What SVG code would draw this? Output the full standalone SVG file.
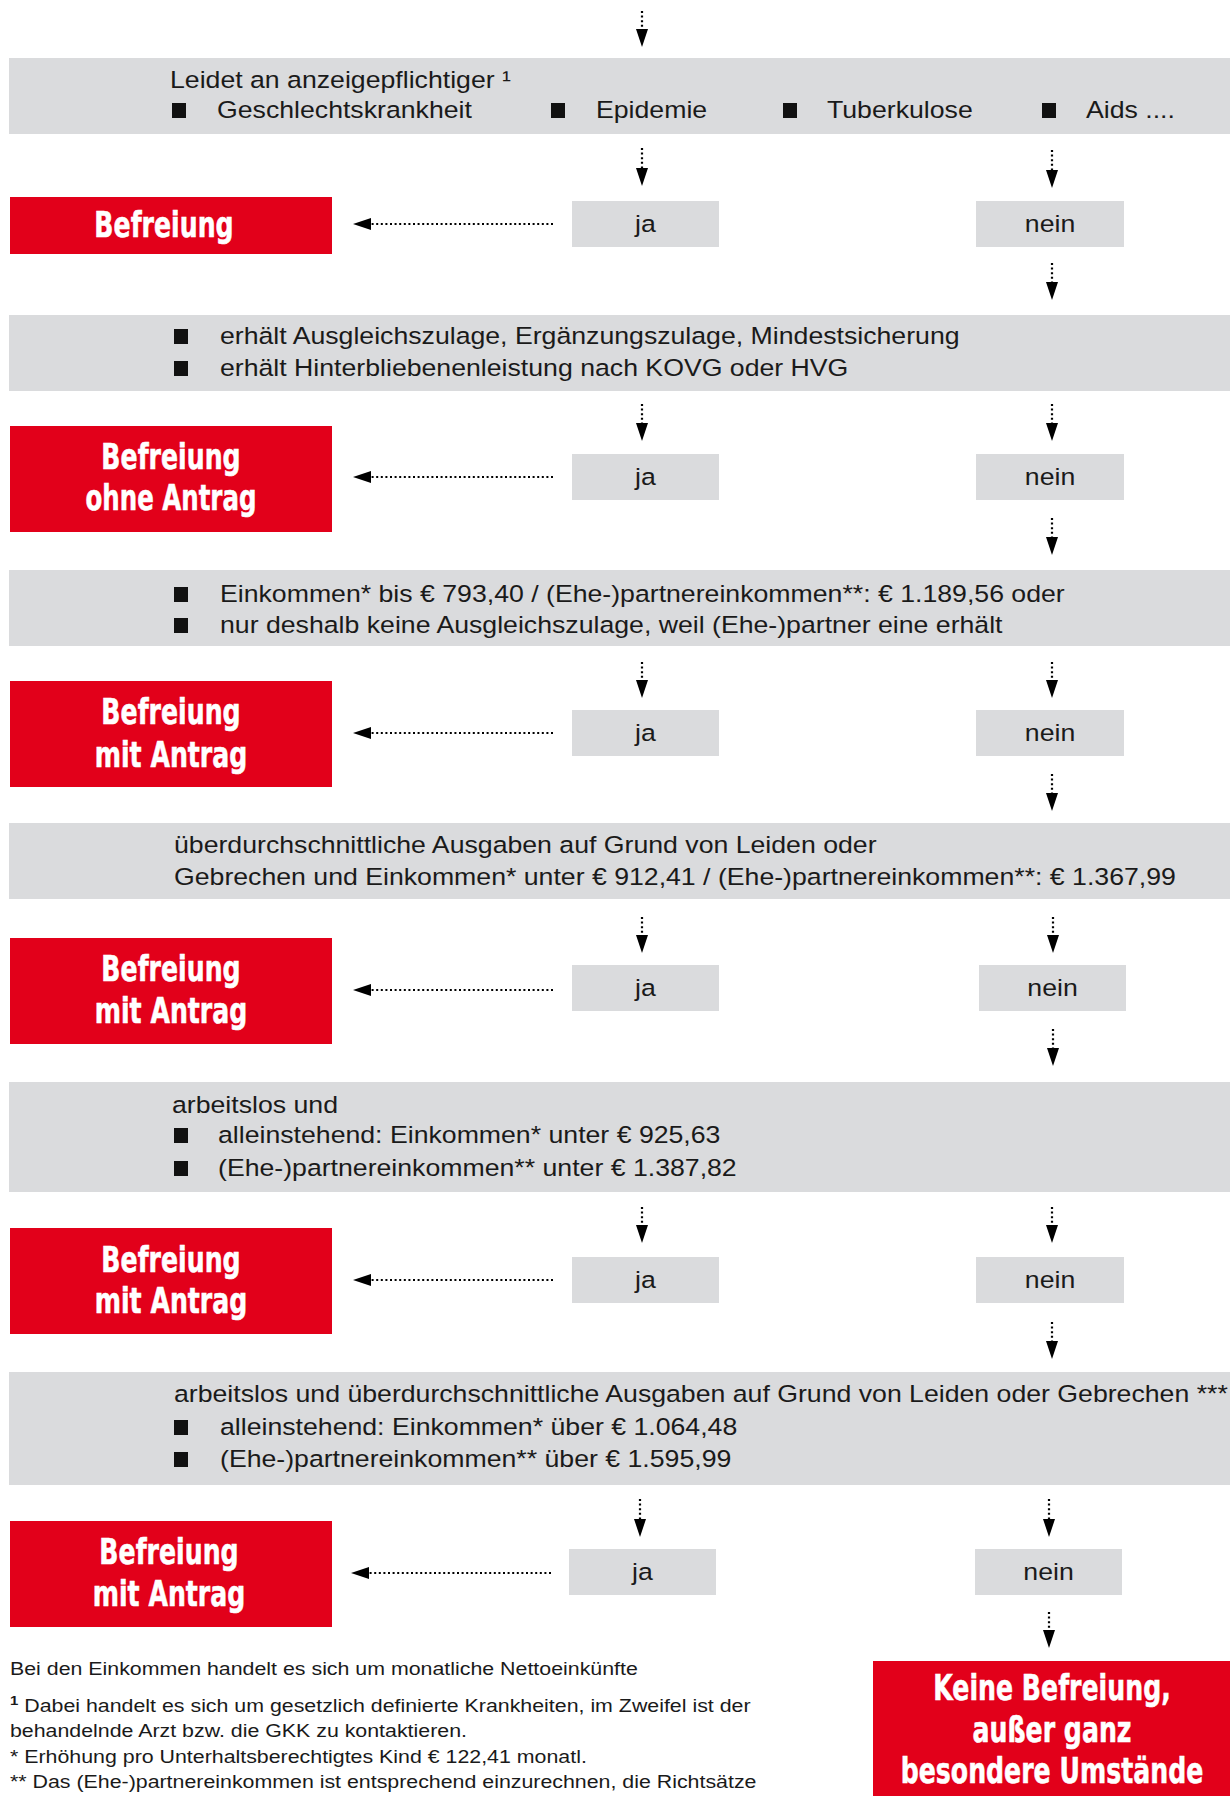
<svg xmlns="http://www.w3.org/2000/svg" width="1230" height="1796" viewBox="0 0 1230 1796">
<style>
.band{fill:#dadbdd}
.red{fill:#e2001a}
.box{fill:#dadbdd}
.bul{fill:#111}
.t{font-family:"Liberation Sans",Arial,sans-serif;font-size:23.5px;fill:#1a1a1a}
.m{text-anchor:middle}
.f{font-family:"Liberation Sans",Arial,sans-serif;font-size:18.5px;fill:#1a1a1a}
.r{font-family:"DejaVu Sans",sans-serif;font-weight:bold;font-size:36px;fill:#fff;text-anchor:middle;stroke:#fff;stroke-width:0.6}
.d{stroke:#000;stroke-width:2.2;stroke-dasharray:2 2.6;fill:none;marker-end:url(#ah)}
</style>
<defs>
<marker id="ah" viewBox="0 0 18 12" markerWidth="18" markerHeight="12" refX="0" refY="6" orient="auto" markerUnits="userSpaceOnUse"><path d="M0,0L18,6L0,12Z" fill="#000"/></marker>
</defs>
<rect width="1230" height="1796" fill="#fff"/>

<g id="q1">
<rect class="band" x="9" y="58" width="1221" height="76"/>
<text class="t" transform="translate(170,88) scale(1.135,1)">Leidet an anzeigepflichtiger ¹</text>
<rect class="bul" x="172" y="103" width="14" height="15"/>
<text class="t" transform="translate(217,118) scale(1.135,1)">Geschlechtskrankheit</text>
<rect class="bul" x="551" y="103" width="14" height="15"/>
<text class="t" transform="translate(596,118) scale(1.135,1)">Epidemie</text>
<rect class="bul" x="783" y="103" width="14" height="15"/>
<text class="t" transform="translate(827,118) scale(1.135,1)">Tuberkulose</text>
<rect class="bul" x="1042" y="103" width="14" height="15"/>
<text class="t" transform="translate(1086,118) scale(1.135,1)">Aids ....</text>
</g>
<g id="r1"><rect class="red" x="10" y="197" width="322" height="57"/><text class="r" transform="translate(164,237) scale(0.7,1)">Befreiung</text></g>
<g id="ja1"><rect class="box" x="572" y="201" width="147" height="46"/><text class="t m" transform="translate(645.5,232) scale(1.135,1)">ja</text></g>
<g id="nein1"><rect class="box" x="976" y="201" width="148" height="46"/><text class="t m" transform="translate(1050,232) scale(1.135,1)">nein</text></g>

<g id="q2">
<rect class="band" x="9" y="315" width="1221" height="76"/>
<rect class="bul" x="174" y="329" width="14" height="15"/>
<text class="t" transform="translate(220,344) scale(1.135,1)">erhält Ausgleichszulage, Ergänzungszulage, Mindestsicherung</text>
<rect class="bul" x="174" y="361" width="14" height="15"/>
<text class="t" transform="translate(220,376) scale(1.135,1)">erhält Hinterbliebenenleistung nach KOVG oder HVG</text>
</g>
<g id="r2"><rect class="red" x="10" y="426" width="322" height="106"/><text class="r" transform="translate(171,469) scale(0.7,1)">Befreiung</text><text class="r" transform="translate(171,510) scale(0.68,1)">ohne Antrag</text></g>
<g id="ja2"><rect class="box" x="572" y="454" width="147" height="46"/><text class="t m" transform="translate(645.5,485) scale(1.135,1)">ja</text></g>
<g id="nein2"><rect class="box" x="976" y="454" width="148" height="46"/><text class="t m" transform="translate(1050,485) scale(1.135,1)">nein</text></g>

<g id="q3">
<rect class="band" x="9" y="570" width="1221" height="76"/>
<rect class="bul" x="174" y="587" width="14" height="15"/>
<text class="t" transform="translate(220,602) scale(1.135,1)">Einkommen* bis € 793,40 / (Ehe-)partnereinkommen**: € 1.189,56 oder</text>
<rect class="bul" x="174" y="618" width="14" height="15"/>
<text class="t" transform="translate(220,633) scale(1.135,1)">nur deshalb keine Ausgleichszulage, weil (Ehe-)partner eine erhält</text>
</g>
<g id="r3"><rect class="red" x="10" y="681" width="322" height="106"/><text class="r" transform="translate(171,724) scale(0.7,1)">Befreiung</text><text class="r" transform="translate(171,767) scale(0.7,1)">mit Antrag</text></g>
<g id="ja3"><rect class="box" x="572" y="710" width="147" height="46"/><text class="t m" transform="translate(645.5,741) scale(1.135,1)">ja</text></g>
<g id="nein3"><rect class="box" x="976" y="710" width="148" height="46"/><text class="t m" transform="translate(1050,741) scale(1.135,1)">nein</text></g>

<g id="q4">
<rect class="band" x="9" y="823" width="1221" height="76"/>
<text class="t" transform="translate(174,853) scale(1.135,1)">überdurchschnittliche Ausgaben auf Grund von Leiden oder</text>
<text class="t" transform="translate(174,885) scale(1.135,1)">Gebrechen und Einkommen* unter € 912,41 / (Ehe-)partnereinkommen**: € 1.367,99</text>
</g>
<g id="r4"><rect class="red" x="10" y="938" width="322" height="106"/><text class="r" transform="translate(171,981) scale(0.7,1)">Befreiung</text><text class="r" transform="translate(171,1023) scale(0.7,1)">mit Antrag</text></g>
<g id="ja4"><rect class="box" x="572" y="965" width="147" height="46"/><text class="t m" transform="translate(645.5,996) scale(1.135,1)">ja</text></g>
<g id="nein4"><rect class="box" x="979" y="965" width="147" height="46"/><text class="t m" transform="translate(1052.5,996) scale(1.135,1)">nein</text></g>

<g id="q5">
<rect class="band" x="9" y="1082" width="1221" height="110"/>
<text class="t" transform="translate(172,1113) scale(1.135,1)">arbeitslos und</text>
<rect class="bul" x="174" y="1128" width="14" height="15"/>
<text class="t" transform="translate(218,1143) scale(1.135,1)">alleinstehend: Einkommen* unter € 925,63</text>
<rect class="bul" x="174" y="1161" width="14" height="15"/>
<text class="t" transform="translate(218,1176) scale(1.135,1)">(Ehe-)partnereinkommen** unter € 1.387,82</text>
</g>
<g id="r5"><rect class="red" x="10" y="1228" width="322" height="106"/><text class="r" transform="translate(171,1272) scale(0.7,1)">Befreiung</text><text class="r" transform="translate(171,1313) scale(0.7,1)">mit Antrag</text></g>
<g id="ja5"><rect class="box" x="572" y="1257" width="147" height="46"/><text class="t m" transform="translate(645.5,1288) scale(1.135,1)">ja</text></g>
<g id="nein5"><rect class="box" x="976" y="1257" width="148" height="46"/><text class="t m" transform="translate(1050,1288) scale(1.135,1)">nein</text></g>

<g id="q6">
<rect class="band" x="9" y="1372" width="1221" height="113"/>
<text class="t" transform="translate(174,1402) scale(1.135,1)">arbeitslos und überdurchschnittliche Ausgaben auf Grund von Leiden oder Gebrechen ***</text>
<rect class="bul" x="174" y="1420" width="14" height="15"/>
<text class="t" transform="translate(220,1435) scale(1.135,1)">alleinstehend: Einkommen* über € 1.064,48</text>
<rect class="bul" x="174" y="1452" width="14" height="15"/>
<text class="t" transform="translate(220,1467) scale(1.135,1)">(Ehe-)partnereinkommen** über € 1.595,99</text>
</g>
<g id="r6"><rect class="red" x="10" y="1521" width="322" height="106"/><text class="r" transform="translate(169,1564) scale(0.7,1)">Befreiung</text><text class="r" transform="translate(169,1606) scale(0.7,1)">mit Antrag</text></g>
<g id="ja6"><rect class="box" x="569" y="1549" width="147" height="46"/><text class="t m" transform="translate(642.5,1580) scale(1.135,1)">ja</text></g>
<g id="nein6"><rect class="box" x="975" y="1549" width="147" height="46"/><text class="t m" transform="translate(1048.5,1580) scale(1.135,1)">nein</text></g>

<g id="end"><rect class="red" x="873" y="1661" width="357" height="135"/>
<text class="r" transform="translate(1052,1700) scale(0.7,1)">Keine Befreiung,</text>
<text class="r" transform="translate(1052,1742) scale(0.7,1)">außer ganz</text>
<text class="r" transform="translate(1052,1783) scale(0.7,1)">besondere Umstände</text>
</g>

<g id="notes">
<text class="f" transform="translate(10,1675) scale(1.155,1)">Bei den Einkommen handelt es sich um monatliche Nettoeinkünfte</text>
<text class="f" transform="translate(10,1712) scale(1.155,1)"><tspan font-size="13" font-weight="bold" dy="-7">1</tspan><tspan dy="7"> Dabei handelt es sich um gesetzlich definierte Krankheiten, im Zweifel ist der</tspan></text>
<text class="f" transform="translate(10,1737) scale(1.155,1)">behandelnde Arzt bzw. die GKK zu kontaktieren.</text>
<text class="f" transform="translate(10,1763) scale(1.155,1)">* Erhöhung pro Unterhaltsberechtigtes Kind € 122,41 monatl.</text>
<text class="f" transform="translate(10,1788) scale(1.155,1)">** Das (Ehe-)partnereinkommen ist entsprechend einzurechnen, die Richtsätze</text>
</g>

<g id="connectors">
<line class="d" x1="642" y1="11" x2="642" y2="29"/>
<line class="d" x1="642" y1="148" x2="642" y2="168"/>
<line class="d" x1="1052" y1="150" x2="1052" y2="170"/>
<line class="d" x1="1052" y1="263" x2="1052" y2="282"/>
<line class="d" x1="553" y1="224" x2="371" y2="224"/>
<line class="d" x1="642" y1="404" x2="642" y2="423"/>
<line class="d" x1="1052" y1="404" x2="1052" y2="423"/>
<line class="d" x1="1052" y1="518" x2="1052" y2="537"/>
<line class="d" x1="553" y1="477" x2="371" y2="477"/>
<line class="d" x1="642" y1="662" x2="642" y2="680"/>
<line class="d" x1="1052" y1="662" x2="1052" y2="680"/>
<line class="d" x1="1052" y1="774" x2="1052" y2="793"/>
<line class="d" x1="553" y1="733" x2="371" y2="733"/>
<line class="d" x1="642" y1="917" x2="642" y2="935"/>
<line class="d" x1="1053" y1="917" x2="1053" y2="935"/>
<line class="d" x1="1053" y1="1029" x2="1053" y2="1048"/>
<line class="d" x1="553" y1="990" x2="371" y2="990"/>
<line class="d" x1="642" y1="1207" x2="642" y2="1225"/>
<line class="d" x1="1052" y1="1207" x2="1052" y2="1225"/>
<line class="d" x1="1052" y1="1322" x2="1052" y2="1341"/>
<line class="d" x1="553" y1="1280" x2="371" y2="1280"/>
<line class="d" x1="640" y1="1499" x2="640" y2="1519"/>
<line class="d" x1="1049" y1="1499" x2="1049" y2="1519"/>
<line class="d" x1="1049" y1="1612" x2="1049" y2="1630"/>
<line class="d" x1="551" y1="1573" x2="369" y2="1573"/>
</g>
</svg>
